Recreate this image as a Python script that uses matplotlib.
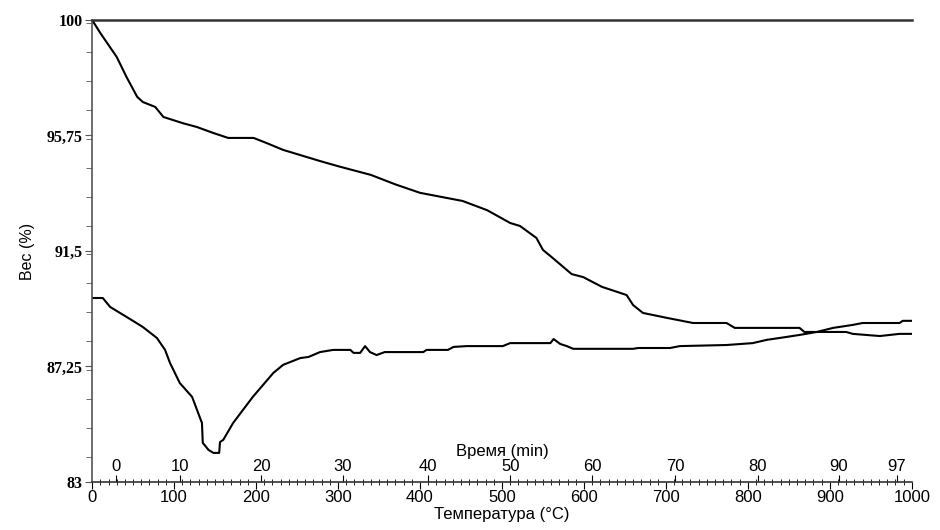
import numpy as np
import matplotlib
matplotlib.use("Agg")
import matplotlib.pyplot as plt
from matplotlib.ticker import MultipleLocator

plt.rcParams['font.family'] = ['Liberation Sans', 'DejaVu Sans']

# кривая ТГ: температура (°C) / вес (%)
tg_temp = [0, 10, 30, 42, 55, 62, 77, 87, 111, 128, 148, 166, 197, 213, 233, 278,
           300, 340, 370, 400, 452, 482, 510, 522, 542, 550, 562, 585, 599, 622,
           652, 660, 672, 701, 733, 774, 784, 863, 869, 920, 928, 961, 985, 1000]
tg_weight = [100, 99.52, 98.64, 97.9, 97.17, 96.98, 96.8, 96.43, 96.2, 96.06, 95.84,
             95.66, 95.66, 95.47, 95.22, 94.81, 94.62, 94.3, 93.95, 93.64, 93.34,
             93.0, 92.53, 92.42, 91.98, 91.54, 91.24, 90.65, 90.54, 90.18, 89.88,
             89.51, 89.22, 89.04, 88.85, 88.85, 88.67, 88.67, 88.52, 88.52, 88.45,
             88.37, 88.45, 88.45]

# нижняя кривая
low_temp = [0, 13, 22, 46, 62, 79, 89, 95, 107, 122, 134, 135, 142, 148, 155, 156,
            160, 172, 196, 221, 233, 254, 264, 278, 294, 315, 319, 327, 333, 339,
            347, 357, 404, 408, 434, 441, 457, 501, 510, 559, 563, 571, 579, 587,
            660, 666, 705, 717, 774, 806, 823, 839, 863, 884, 904, 928, 940, 985,
            989, 1000]
low_val = [89.77, 89.77, 89.44, 89.0, 88.7, 88.3, 87.86, 87.38, 86.64, 86.13, 85.17,
           84.44, 84.18, 84.07, 84.07, 84.47, 84.55, 85.17, 86.13, 87.01, 87.31,
           87.56, 87.6, 87.78, 87.86, 87.86, 87.75, 87.75, 88.0, 87.78, 87.67,
           87.78, 87.78, 87.86, 87.86, 87.97, 88.0, 88.0, 88.11, 88.11, 88.26,
           88.08, 88.0, 87.9, 87.9, 87.93, 87.93, 88.0, 88.04, 88.11, 88.23, 88.3,
           88.41, 88.52, 88.67, 88.78, 88.85, 88.85, 88.93, 88.93]

y_ticks = [83, 87.25, 91.5, 95.75, 100]
y_labels = ["83", "87,25", "91,5", "95,75", "100"]

# шкала времени (мин) и соответствующие температуры
time_labels = ["0", "10", "20", "30", "40", "50", "60", "70", "80", "90", "97"]
time_temp = [29, 107, 206, 306, 410, 510, 610, 711, 812, 911, 982]

fig = plt.figure(figsize=(9.4, 5.3), dpi=100)
ax = fig.add_axes([0.098, 0.0906, 0.872, 0.8717])

ax.plot(tg_temp, tg_weight, color='black', lw=1.5)
ax.plot(low_temp, low_val, color='black', lw=1.5)

ax.set_xlim(0, 1000)
ax.set_ylim(83, 100)

ax.spines['right'].set_visible(False)
ax.spines['top'].set_color('#333333')
ax.spines['top'].set_linewidth(1.8)
ax.spines['left'].set_color('#555555')
ax.spines['left'].set_linewidth(1.2)
ax.spines['bottom'].set_color('#333333')
ax.spines['bottom'].set_linewidth(1.2)

ax.set_yticks(y_ticks)
ax.set_yticklabels(y_labels, fontfamily='Liberation Serif', fontweight='bold', fontsize=11.5)
ax.yaxis.set_minor_locator(MultipleLocator(1.0625))
ax.tick_params(axis='y', which='major', length=5, color='#555555', pad=2)
ax.tick_params(axis='y', which='minor', length=4, color='#555555')

ax.set_xticks(np.arange(0, 1001, 100))
ax.xaxis.set_minor_locator(MultipleLocator(10))
ax.tick_params(axis='x', which='major', direction='out', length=5, labelsize=12, pad=1)
ax.tick_params(axis='x', which='minor', direction='inout', length=4)
ax.set_xlabel("Температура (°C)", fontsize=12, labelpad=1)
ax.set_ylabel("Вес (%)", fontsize=11.5, labelpad=8)

# ось времени внутри графика
sec = ax.secondary_xaxis(0.0)
sec.xaxis.set_ticks_position('top')
sec.xaxis.set_label_position('top')
sec.spines['bottom'].set_visible(False)
sec.spines['top'].set_visible(False)
sec.set_xticks(time_temp)
sec.set_xticklabels(time_labels)
sec.tick_params(axis='x', which='major', direction='out', length=5, labelsize=12, pad=1)
sec.set_xlabel("Время (min)", fontsize=12, labelpad=2)

fig.savefig("out.png", dpi=100)
